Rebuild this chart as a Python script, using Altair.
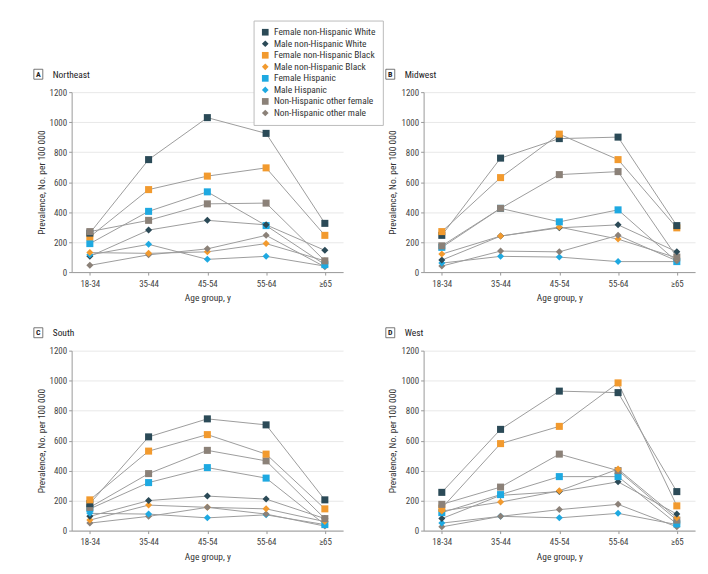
import altair as alt
import pandas as pd

ages = ["18-34", "35-44", "45-54", "55-64", "≥65"]
series = [
    "Female non-Hispanic White",
    "Male non-Hispanic White",
    "Female non-Hispanic Black",
    "Male non-Hispanic Black",
    "Female Hispanic",
    "Male Hispanic",
    "Non-Hispanic other female",
    "Non-Hispanic other male",
]
colors = ["#2b4a57", "#2b4a57", "#f29a2e", "#f29a2e", "#1ea9e1", "#1ea9e1", "#8b8178", "#8b8178"]
shapes = ["square", "diamond", "square", "diamond", "square", "diamond", "square", "diamond"]

regions = ["Northeast", "Midwest", "South", "West"]
letters = ["A", "B", "C", "D"]

# values per region, per series (order of `series`), per age group (order of `ages`)
northeast = [
    [260, 750, 1030, 925, 325],
    [105, 280, 345, 315, 145],
    [235, 550, 640, 695, 245],
    [130, 125, 135, 190, 75],
    [190, 405, 535, 310, 50],
    [115, 185, 85, 105, 40],
    [270, 345, 455, 460, 75],
    [45, 115, 155, 245, 35],
]
midwest = [
    [245, 760, 890, 900, 310],
    [80, 240, 295, 315, 135],
    [270, 630, 920, 750, 295],
    [120, 240, 300, 220, 95],
    [165, 425, 335, 415, 70],
    [60, 105, 100, 70, 70],
    [175, 425, 650, 670, 100],
    [40, 140, 135, 245, 75],
]
south = [
    [180, 625, 745, 705, 205],
    [95, 200, 230, 210, 80],
    [205, 530, 640, 510, 145],
    [70, 170, 155, 145, 60],
    [145, 320, 420, 350, 40],
    [115, 110, 85, 105, 40],
    [155, 380, 535, 465, 80],
    [50, 95, 155, 110, 30],
]
west = [
    [255, 675, 930, 920, 260],
    [80, 235, 260, 325, 110],
    [150, 580, 695, 985, 165],
    [130, 190, 265, 410, 85],
    [120, 240, 360, 360, 45],
    [50, 95, 85, 115, 40],
    [175, 290, 510, 400, 70],
    [25, 95, 140, 175, 25],
]
region_values = [northeast, midwest, south, west]

rows = []
for reg, vals in zip(regions, region_values):
    for s, sv in zip(series, vals):
        for a, v in zip(ages, sv):
            rows.append({"region": reg, "series": s, "age": a, "value": v})
df = pd.DataFrame(rows)

FONT = "Liberation Sans Narrow, Roboto Condensed, Roboto, sans-serif"


def panel(reg, letter):
    base = alt.Chart(df[df.region == reg])
    x = alt.X(
        "age:O",
        sort=ages,
        scale=alt.Scale(type="point", padding=0.31),
        axis=alt.Axis(title="Age group, y", labelAngle=0, grid=False, tickSize=3,
                      domainColor="#999", tickColor="#999", labelPadding=4, titlePadding=5,
                      titleFontWeight="normal"),
    )
    y = alt.Y(
        "value:Q",
        scale=alt.Scale(domain=[0, 1200]),
        axis=alt.Axis(title="Prevalence, No. per 100 000", values=list(range(0, 1201, 200)),
                      format="d", tickSize=3, domainColor="#999", tickColor="#999",
                      gridColor="#e8e8e8", labelPadding=2, titlePadding=3,
                      titleFontWeight="normal"),
    )
    lines = base.mark_line(color="#9c9c9c", strokeWidth=1).encode(x=x, y=y, detail="series:N")
    pts = base.mark_point(filled=True, size=50, opacity=1).encode(
        x=x,
        y=y,
        color=alt.Color("series:N", sort=series, scale=alt.Scale(domain=series, range=colors),
                        legend=alt.Legend(title=None, orient="none", legendX=183, legendY=-72,
                                          strokeColor="#bbb", fillColor="white", padding=7,
                                          labelFontSize=9.5, rowPadding=0.6, symbolSize=45,
                                          labelColor="#333", labelFont=FONT)),
        shape=alt.Shape("series:N", sort=series, scale=alt.Scale(domain=series, range=shapes)),
        order=alt.Order("value:Q"),
    )
    one = alt.Chart(pd.DataFrame({"region": [reg], "letter": [letter]}))
    box = one.mark_rect(fill="white", stroke="#555", strokeWidth=0.8).encode(
        x=alt.value(-38), x2=alt.value(-29), y=alt.value(-23), y2=alt.value(-13)
    )
    let = one.mark_text(fontSize=8, fontWeight="bold", font=FONT, color="#222").encode(
        x=alt.value(-33.5), y=alt.value(-17.5), text="letter:N"
    )
    name = one.mark_text(fontSize=9.5, align="left", font=FONT, color="#222").encode(
        x=alt.value(-19), y=alt.value(-17.5), text="region:N"
    )
    return alt.layer(lines, pts, box, let, name).properties(width=273, height=181)


row1 = alt.hconcat(panel("Northeast", "A"), panel("Midwest", "B"), spacing=42)
row2 = alt.hconcat(panel("South", "C"), panel("West", "D"), spacing=42)
chart = alt.vconcat(row1, row2, spacing=24).properties(
    padding={"left": 25, "top": 10, "right": 5, "bottom": 5},
    background="white",
).configure_view(stroke=None).configure_axis(
    labelFont=FONT, titleFont=FONT, labelFontSize=9, titleFontSize=9.5, labelColor="#444",
    titleColor="#333", titleFontWeight="normal"
)

chart.save("out.html", embed_options={"renderer": "svg", "actions": False})
